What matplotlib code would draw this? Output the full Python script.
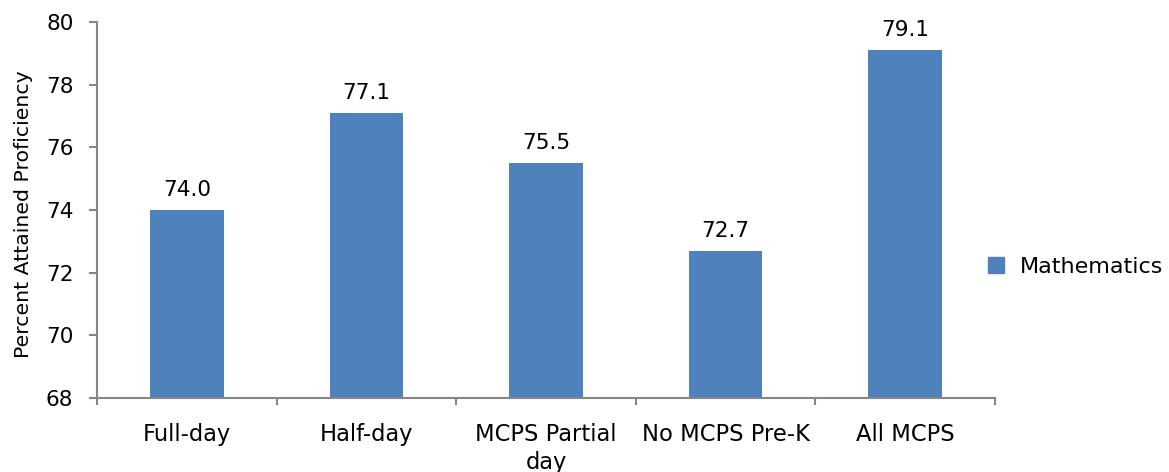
import matplotlib
matplotlib.use("Agg")
import matplotlib.pyplot as plt
from matplotlib.patches import Patch

categories = ["Full-day", "Half-day", "MCPS Partial\nday", "No MCPS Pre-K", "All MCPS"]
mathematics = [74.0, 77.1, 75.5, 72.7, 79.1]
yticks = [68, 70, 72, 74, 76, 78, 80]

plt.rcParams['font.family'] = ['DejaVu Sans']
bar_color = "#4F81BD"
axis_color = "#868686"

fig = plt.figure(figsize=(11.69, 4.72), dpi=100)
ax = fig.add_axes([97/1169, 1-398/472, (995-97)/1169, (398-22)/472])

x = list(range(len(categories)))
bars = ax.bar(x, mathematics, width=0.41, color=bar_color, zorder=2)
ax.set_ylim(68, 80)
ax.set_xlim(-0.5, len(categories)-0.5)
ax.set_yticks(yticks)
ax.set_yticklabels([str(t) for t in yticks], fontsize=15.5)

ax.set_xticks([i - 0.5 for i in range(len(categories)+1)], minor=False)
ax.set_xticklabels([])
ax.set_xticks(x, minor=True)
ax.set_xticklabels(categories, minor=True, fontsize=16.3, linespacing=1.3)
ax.tick_params(axis='x', which='minor', length=0, pad=18)
ax.tick_params(axis='x', which='major', length=5, color=axis_color, width=1.5)
ax.tick_params(axis='y', length=6, color=axis_color, width=1.5, pad=11)

for s in ['top', 'right']:
    ax.spines[s].set_visible(False)
for s in ['left', 'bottom']:
    ax.spines[s].set_color(axis_color)
    ax.spines[s].set_linewidth(1.5)

for b, v in zip(bars, mathematics):
    ax.annotate(f"{v:.1f}", (b.get_x() + b.get_width()/2, v), xytext=(0, 7),
                textcoords="offset points", ha="center", va="bottom", fontsize=15.5)

ax.set_ylabel("Percent Attained Proficiency", fontsize=14.7)
ax.yaxis.set_label_coords(-0.0715, 0.49)

fig.legend(handles=[Patch(color=bar_color, label="Mathematics")],
           loc="center left", bbox_to_anchor=(988/1169, 1-267/472), frameon=False,
           borderpad=0, borderaxespad=0,
           fontsize=16, handlelength=0.7, handleheight=0.7, handletextpad=0.75)

fig.savefig("out.png", dpi=100)
